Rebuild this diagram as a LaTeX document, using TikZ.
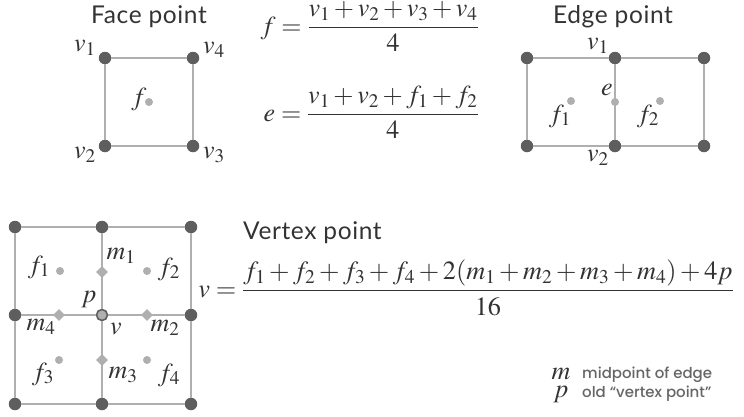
\documentclass[tikz,border=0pt]{standalone}
\usepackage[no-math]{fontspec}
\usepackage{mathptmx}
\setsansfont{Lato}[LetterSpace=2.5]
\newfontfamily\legfont{Poppins}[UprightFont={* Medium}]
\usetikzlibrary{shapes.geometric}
\definecolor{dgray}{HTML}{5E5E5E}
\definecolor{lgray}{HTML}{AFAFAF}
\definecolor{tcol}{HTML}{333333}
\definecolor{legcol}{HTML}{666666}
\tikzset{
  edgeline/.style={draw=lgray, line width=1.3pt},
  vdot/.style={circle, fill=dgray, minimum size=12.5pt, inner sep=0pt},
  fdot/.style={circle, fill=lgray, minimum size=8pt, inner sep=0pt},
  mdot/.style={diamond, fill=lgray, minimum size=12pt, inner sep=0pt},
  cdot/.style={circle, fill=lgray, draw=dgray, line width=1.6pt, minimum size=11pt, inner sep=0pt},
  lbl/.style={font=\fontsize{26}{30}\selectfont, text=tcol, inner sep=0pt},
  ttl/.style={font=\sffamily\fontsize{24.5}{28}\selectfont, text=tcol, inner sep=0pt},
  eqn/.style={font=\fontsize{26}{30}\selectfont, text=tcol, inner sep=0pt},
  legtxt/.style={font=\legfont\fontsize{15}{17}\selectfont, text=legcol, inner sep=0pt, anchor=west},
}
\begin{document}
\begin{tikzpicture}[x=1pt,y=-1pt]
\useasboundingbox (0,0) rectangle (744,416);
% ---------- Face point ----------
\node[ttl] (tface) at (149,17) {Face point};
\node[vdot] (a1) at (105,58) {};
\node[vdot] (a4) at (193,58) {};
\node[vdot] (a2) at (105,146) {};
\node[vdot] (a3) at (193,146) {};
\draw[edgeline] (a1) -- (a4) -- (a3) -- (a2) -- (a1);
\node[fdot] (af) at (149,102) {};
\node[lbl] (la1) at (85,48) {$v_1$};
\node[lbl] (la4) at (214,50) {$v_4$};
\node[lbl] (la2) at (85,155) {$v_2$};
\node[lbl] (la3) at (214,155) {$v_3$};
\node[lbl] (laf) at (139,99) {$f$};
% ---------- formulas ----------
\node[eqn, anchor=base east] (eqf) at (479,34) {$\displaystyle f=\frac{v_1+v_2+v_3+v_4}{4}$};
\node[eqn, anchor=base east] (eqe) at (479,121) {$\displaystyle e=\frac{v_1+v_2+f_1+f_2}{4}$};
% ---------- Edge point ----------
\node[ttl] (tedge) at (613,17) {Edge point};
\node[vdot] (b1) at (527,58) {};
\node[vdot] (b2) at (615,58) {};
\node[vdot] (b3) at (704,58) {};
\node[vdot] (b4) at (527,146) {};
\node[vdot] (b5) at (615,146) {};
\node[vdot] (b6) at (704,146) {};
\draw[edgeline] (b1) -- (b2) -- (b3) -- (b6) -- (b5) -- (b4) -- (b1);
\draw[edgeline] (b2) -- (b5);
\node[fdot] (be) at (615,102) {};
\node[fdot] (bf1) at (571,101) {};
\node[fdot] (bf2) at (660,101) {};
\node[lbl] (lb1) at (598,46) {$v_1$};
\node[lbl] (lb2) at (598,158) {$v_2$};
\node[lbl] (lbe) at (607,90) {$e$};
\node[lbl] (lbf1) at (560,116) {$f_1$};
\node[lbl] (lbf2) at (648,116) {$f_2$};
% ---------- Vertex point ----------
\node[vdot] (c11) at (15,227) {};
\node[vdot] (c12) at (102,227) {};
\node[vdot] (c13) at (191,227) {};
\node[vdot] (c21) at (15,315) {};
\node[cdot] (c22) at (102,315) {};
\node[vdot] (c23) at (191,315) {};
\node[vdot] (c31) at (15,404) {};
\node[vdot] (c32) at (102,404) {};
\node[vdot] (c33) at (191,404) {};
\draw[edgeline] (c11) -- (c12) -- (c13) -- (c23) -- (c33) -- (c32) -- (c31) -- (c21) -- (c11);
\draw[edgeline] (c12) -- (c22) -- (c32);
\draw[edgeline] (c21) -- (c22) -- (c23);
\node[mdot] (m1) at (102,272) {};
\node[mdot] (m2) at (147,315) {};
\node[mdot] (m3) at (102,360) {};
\node[mdot] (m4) at (59,315) {};
\node[fdot] (cf1) at (60,271) {};
\node[fdot] (cf2) at (147,271) {};
\node[fdot] (cf3) at (59,360) {};
\node[fdot] (cf4) at (147,360) {};
\node[lbl] (lcf1) at (39,267) {$f_1$};
\node[lbl] (lcf2) at (169,269) {$f_2$};
\node[lbl] (lcf3) at (43,374) {$f_3$};
\node[lbl] (lcf4) at (169,375) {$f_4$};
\node[lbl] (lm1) at (121,256) {$m_1$};
\node[lbl] (lm2) at (165,328) {$m_2$};
\node[lbl] (lm3) at (123,375) {$m_3$};
\node[lbl] (lm4) at (41,327) {$m_4$};
\node[lbl] (lp) at (89,299) {$p$};
\node[lbl] (lv) at (116,329) {$v$};
\node[ttl, anchor=west] (tvert) at (243,233) {Vertex point};
\node[eqn, font=\fontsize{26.3}{30}\selectfont, anchor=base east] (eqv) at (734,297)
  {$\displaystyle v=\frac{f_1+f_2+f_3+f_4+2(m_1+m_2+m_3+m_4)+4p}{16}$};
% ---------- legend ----------
\node[lbl, anchor=base] (lgm) at (561,379) {$m$};
\node[lbl, anchor=base] (lgp) at (561,397) {$p$};
\node[legtxt] (lgmt) at (582,375) {midpoint of edge};
\node[legtxt] (lgpt) at (582,394) {old “vertex point”};
\end{tikzpicture}
\end{document}
